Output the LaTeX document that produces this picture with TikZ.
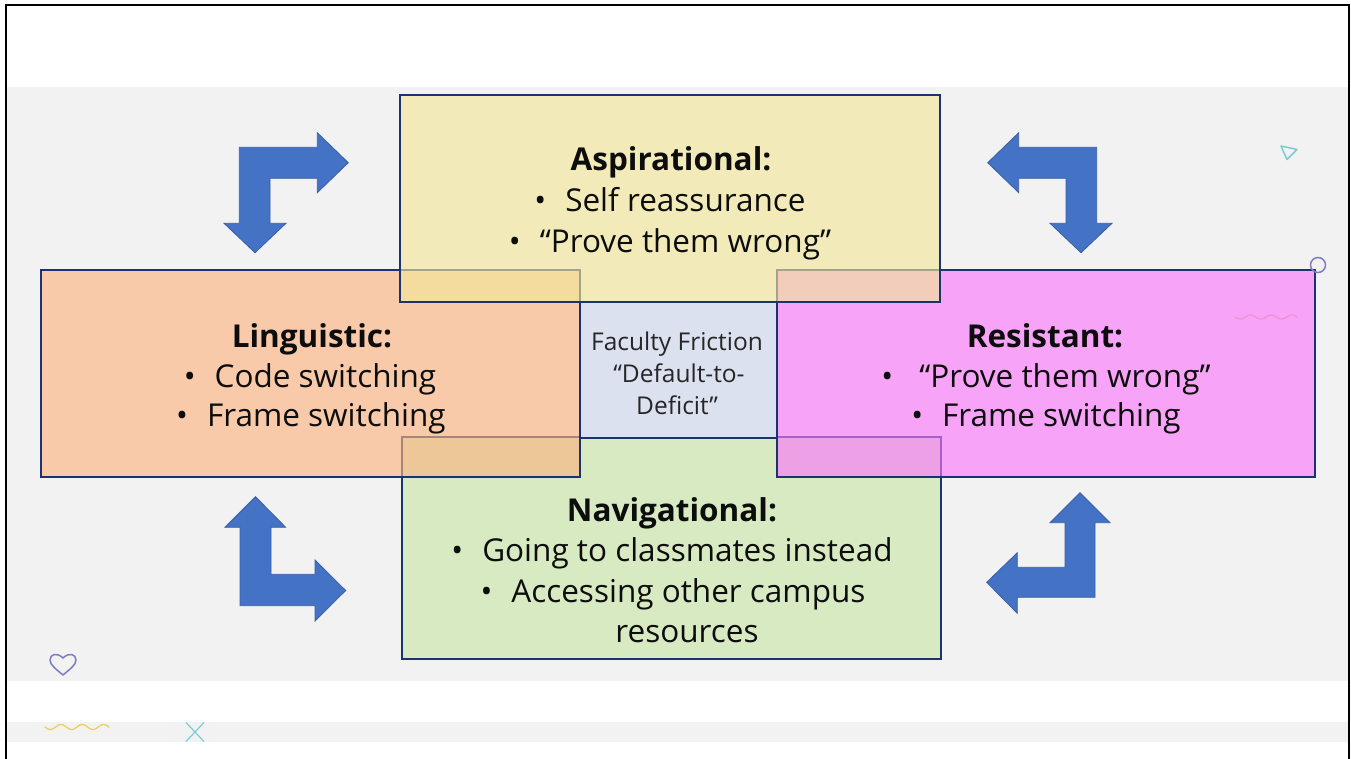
\documentclass[tikz,border=0pt]{standalone}
\usepackage{fontspec}
\setmainfont{Open Sans}
\definecolor{panel}{HTML}{F2F2F2}
\definecolor{navy}{HTML}{1C3370}
\definecolor{arrowblue}{HTML}{4472C4}
\definecolor{arrowedge}{HTML}{3A5FA8}
\definecolor{ink}{HTML}{0D0D0D}
\definecolor{notegrey}{HTML}{262626}
\definecolor{aspfill}{RGB}{242,231,153}
\definecolor{lingfill}{RGB}{252,180,128}
\definecolor{resfill}{RGB}{250,118,250}
\definecolor{navfill}{HTML}{D8EAC2}
\definecolor{corefill}{HTML}{DCE1EF}
\definecolor{lilac}{HTML}{7B7BC8}
\definecolor{teal}{HTML}{7DCBD2}
\definecolor{sun}{HTML}{E8D060}
\definecolor{rose}{HTML}{F090D0}
\tikzset{
  zone/.style={draw=navy, line width=2pt},
  overlay/.style={zone, fill opacity=0.63},
  bentarrow/.style={fill=arrowblue, draw=arrowedge, line width=0.8pt, line join=miter},
  head/.style={font=\fontsize{31.5}{38}\selectfont\bfseries, anchor=base, text=ink, inner sep=0pt},
  item/.style={font=\fontsize{31.5}{38}\selectfont, anchor=base, text=ink, inner sep=0pt},
  note/.style={font=\fontsize{24.5}{29}\selectfont, anchor=base, text=notegrey, inner sep=0pt},
  deco/.style={line width=1.5pt, line cap=round, line join=round},
}
\newcommand{\bul}{\textbullet\hspace{19pt}}
\begin{document}
\begin{tikzpicture}[x=1pt,y=-1pt]
\useasboundingbox (0,0) rectangle (1351,759);
% page and slide bands
\fill[white] (0,0) rectangle (1351,759);
\fill[panel] (7,87) rectangle (1349,681);
\fill[panel] (7,722) rectangle (1349,742);
\draw[black, line width=2pt] (6,759) -- (6,5) -- (1349,5) -- (1349,759);

% bent arrows around the centre
\draw[bentarrow] (239.3,147.3) -- (317.3,147.3) -- (317.3,132.7) -- (348.3,162.7) -- (317.3,192.7)
  -- (317.3,178.3) -- (270,178.3) -- (270,223.3) -- (286,223.3) -- (255,252.7) -- (224,223.3)
  -- (239.3,223.3) -- cycle;
\draw[bentarrow] (1096.7,147.3) -- (1018.7,147.3) -- (1018.7,132.7) -- (987.7,162.7) -- (1018.7,192.7)
  -- (1018.7,178.3) -- (1066,178.3) -- (1066,223.3) -- (1050,223.3) -- (1081,252.7) -- (1112,223.3)
  -- (1096.7,223.3) -- cycle;
\draw[bentarrow] (240,605.7) -- (315,605.7) -- (315,621) -- (345.7,590.5) -- (315,560) -- (315,574.3)
  -- (271,574.3) -- (271,527.3) -- (285.7,527.3) -- (255.5,496.7) -- (225,527.3) -- (240,527.3) -- cycle;
\draw[bentarrow] (1095,597.3) -- (1017.3,597.3) -- (1017.3,613.3) -- (986.7,582.3) -- (1017.3,552.7)
  -- (1017.3,567.3) -- (1065,567.3) -- (1065,522.7) -- (1050,522.7) -- (1080,492.7) -- (1110,522.7)
  -- (1095,522.7) -- cycle;

% small ornaments
\draw[deco, teal] (1281,146) -- (1297,149.5) -- (1287,159.5) -- cycle;
\draw[deco, lilac] (63,675) .. controls (56,669) and (50,665) .. (50,660)
  .. controls (50,654) and (57,652) .. (63,658)
  .. controls (69,652) and (76,654) .. (76,660)
  .. controls (76,665) and (70,669) .. (63,675);
\draw[deco, sun, line width=1.3pt, domain=0:64, samples=80, smooth] plot ({45+\x},{727+2.5*sin(\x*16.9)});
\draw[teal, line width=1.2pt] (186,722.5) -- (204,741.5) (204,722.5) -- (186,741.5);

% the four capital areas and the centre
\draw[zone, fill=navfill] (402,437) rectangle (941,659);
\draw[overlay, fill=lingfill] (41,270) rectangle (580,477);
\draw[overlay, fill=resfill] (777,270) rectangle (1315,477);
\draw[overlay, fill=aspfill] (400,95) rectangle (940,302);
\draw[zone, fill=corefill] (580,302) rectangle (777,438);
\draw[deco, rose, line width=1.2pt, domain=0:62, samples=80, smooth] plot ({1235+\x},{317+2*sin(\x*17.4)});
\draw[deco, lilac] (1318,265) circle (7.5);

% texts
\node[head] (asp) at (671,171) {Aspirational:};
\node[item] (asp1) at (670,212) {\bul Self reassurance};
\node[item] (asp2) at (670,253) {\bul “Prove them wrong”};

\node[head] (ling) at (312,347) {Linguistic:};
\node[item] (ling1) at (310,387) {\bul Code switching};
\node[item] (ling2) at (311,426) {\bul Frame switching};

\node[head] (res) at (1045,347) {Resistant:};
\node[item] (res1) at (1046,387) {\textbullet\hspace{26pt}“Prove them wrong”};
\node[item] (res2) at (1046,426) {\bul Frame switching};

\node[head] (nav) at (672,521) {Navigational:};
\node[item] (nav1) at (672,561) {\bul Going to classmates instead};
\node[item] (nav2) at (673,602) {\bul Accessing other campus};
\node[item] (nav3) at (687,642) {resources};

\node[note] (core1) at (677,350) {Faculty Friction};
\node[note] (core2) at (679,382) {“Default-to-};
\node[note] (core3) at (677,414) {Deficit”};
\end{tikzpicture}
\end{document}
